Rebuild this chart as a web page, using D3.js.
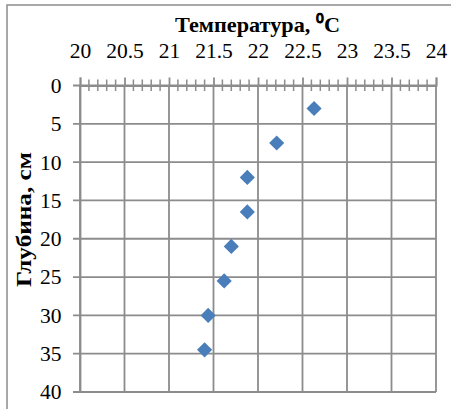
<!DOCTYPE html>
<html>
<head>
<meta charset="utf-8">
<script src="https://cdn.jsdelivr.net/npm/d3@7"></script>
</head>
<body style="margin:0">
<div id="graf"></div>
<script>
// Datos
const temperatura = [22.63, 22.21, 21.88, 21.88, 21.70, 21.62, 21.44, 21.40]
const profundidad = [3, 7.5, 12, 16.5, 21, 25.5, 30, 34.5]
const xTicks = [20, 20.5, 21, 21.5, 22, 22.5, 23, 23.5, 24]
const yTicks = [0, 5, 10, 15, 20, 25, 30, 35, 40]

const fuente = 'Liberation Serif'

// Dimensiones
const anchoTotal = 451
const altoTotal = 409
const margins = { top: 85.5, right: 15, bottom: 17, left: 80 }
const ancho = anchoTotal - margins.left - margins.right
const alto = altoTotal - margins.top - margins.bottom
const gris = '#8c8c8c'

const svg = d3.select('#graf').append('svg')
    .attr('width', anchoTotal)
    .attr('height', altoTotal)

// Marco exterior
svg.append('rect')
    .attr('x', 7).attr('y', 5)
    .attr('width', 460).attr('height', 420)
    .attr('fill', 'white')
    .attr('stroke', gris)
    .attr('stroke-width', 1.5)

const g = svg.append('g')
    .attr('transform', `translate(${margins.left}, ${margins.top})`)

// Escaladores
const x = d3.scaleLinear().domain([20, 24]).range([0, ancho])
const y = d3.scaleLinear().domain([0, 40]).range([0, alto])

// Rejilla
g.append('g').selectAll('line').data(xTicks).join('line')
    .attr('x1', d => x(d)).attr('x2', d => x(d))
    .attr('y1', 0).attr('y2', alto)
    .attr('stroke', gris).attr('stroke-width', 1.8)

g.append('g').selectAll('line').data(yTicks).join('line')
    .attr('x1', -7).attr('x2', ancho)
    .attr('y1', d => y(d)).attr('y2', d => y(d))
    .attr('stroke', gris).attr('stroke-width', 1.8)

// Eje superior
const xAxis = g.append('g')
    .call(d3.axisTop(x).tickValues(xTicks).tickSize(8).tickPadding(19.5).tickFormat(d3.format('')))
xAxis.selectAll('text').attr('fill', '#000').attr('font-family', fuente).attr('font-size', 21.5)
xAxis.select('.domain').attr('stroke', gris).attr('stroke-width', 1.8)
xAxis.selectAll('.tick line').attr('stroke', gris).attr('stroke-width', 1.8)

// Marcas menores
const menores = d3.range(20, 24.001, 0.1).filter(v => Math.abs(v * 2 - Math.round(v * 2)) > 0.01)
g.append('g').selectAll('line').data(menores).join('line')
    .attr('x1', d => x(d)).attr('x2', d => x(d))
    .attr('y1', -6).attr('y2', 5.5)
    .attr('stroke', gris).attr('stroke-width', 1.5)

// Eje izquierdo
const yAxis = g.append('g')
    .call(d3.axisLeft(y).tickValues(yTicks).tickSize(0).tickPadding(18.5))
yAxis.selectAll('text').attr('fill', '#000').attr('font-family', fuente).attr('font-size', 21.5)
yAxis.select('.domain').attr('stroke', gris).attr('stroke-width', 1.8)

// Puntos
const diamante = d3.symbol().type(d3.symbolSquare).size(115)
g.append('g').selectAll('path').data(temperatura).join('path')
    .attr('d', diamante)
    .attr('transform', (d, i) => `translate(${x(d)}, ${y(profundidad[i])}) rotate(45)`)
    .attr('fill', '#4a7ebb')

// Titulos
svg.append('text')
    .attr('font-family', fuente).attr('font-size', 22).attr('font-weight', 'bold')
    .attr('x', 175).attr('y', 32)
    .attr('textLength', 165).attr('lengthAdjust', 'spacingAndGlyphs')
    .text('Температура, ⁰C')

svg.append('text')
    .attr('font-family', fuente).attr('font-size', 22).attr('font-weight', 'bold')
    .attr('transform', 'translate(30.5, 287) rotate(-90)')
    .attr('textLength', 135).attr('lengthAdjust', 'spacingAndGlyphs')
    .text('Глубина, см')
</script>
</body>
</html>
